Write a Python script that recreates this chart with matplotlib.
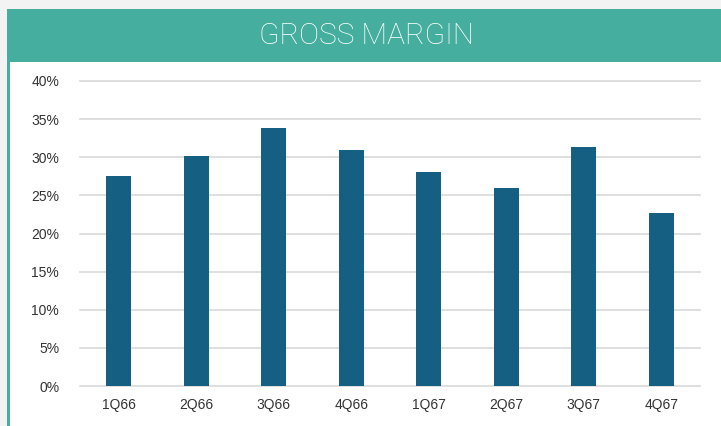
import matplotlib.pyplot as plt
from matplotlib.patches import Rectangle

quarters = ['1Q66', '2Q66', '3Q66', '4Q66', '1Q67', '2Q67', '3Q67', '4Q67']
margin = [27.6, 30.1, 33.9, 30.9, 28.1, 26.0, 31.4, 22.7]
yticks = [0, 5, 10, 15, 20, 25, 30, 35, 40]

W, H = 721, 426
fig = plt.figure(figsize=(W / 100, H / 100), dpi=100, facecolor='#f3f3f3')

# white panel, teal header and left border
fig.patches.append(Rectangle((10 / W, 0), 1, 1 - 62 / H, transform=fig.transFigure,
                             facecolor='white', edgecolor='none', zorder=-2))
fig.patches.append(Rectangle((7 / W, 1 - 62 / H), 1, 53 / H, transform=fig.transFigure,
                             facecolor='#45ae9e', edgecolor='none', zorder=-2))
fig.patches.append(Rectangle((7 / W, 0), 3 / W, 1 - 62 / H, transform=fig.transFigure,
                             facecolor='#45ae9e', edgecolor='none', zorder=-2))
fig.text(0.5 + 6 / W, 1 - 36 / H, 'GROSS MARGIN', color='white', fontsize=21.5,
         family='Roboto', weight='light', ha='center', va='center')

ax = fig.add_axes([80 / W, 1 - 386 / H, 620 / W, 305 / H])
ax.set_zorder(2)
ax.set_facecolor('none')
ax.bar(range(len(quarters)), margin, width=0.32, color='#155f82', zorder=3)
ax.set_xlim(-0.5, len(quarters) - 0.5)
ax.set_ylim(0, 40)
ax.set_yticks(yticks)
ax.set_yticklabels([f'{v}%' for v in yticks])
ax.set_xticks(range(len(quarters)))
ax.set_xticklabels(quarters)
ax.grid(axis='y', color='#d9d9d9', linewidth=1.2, zorder=0)
for gl in ax.get_ygridlines():
    gl.set_clip_on(False)
for s in ax.spines.values():
    s.set_visible(False)
ax.tick_params(length=0, labelsize=10, colors='#333333', labelfontfamily='Liberation Sans')
ax.tick_params(axis='y', pad=15)
ax.tick_params(axis='x', pad=9)

fig.savefig('out.png', dpi=100, facecolor=fig.get_facecolor())
